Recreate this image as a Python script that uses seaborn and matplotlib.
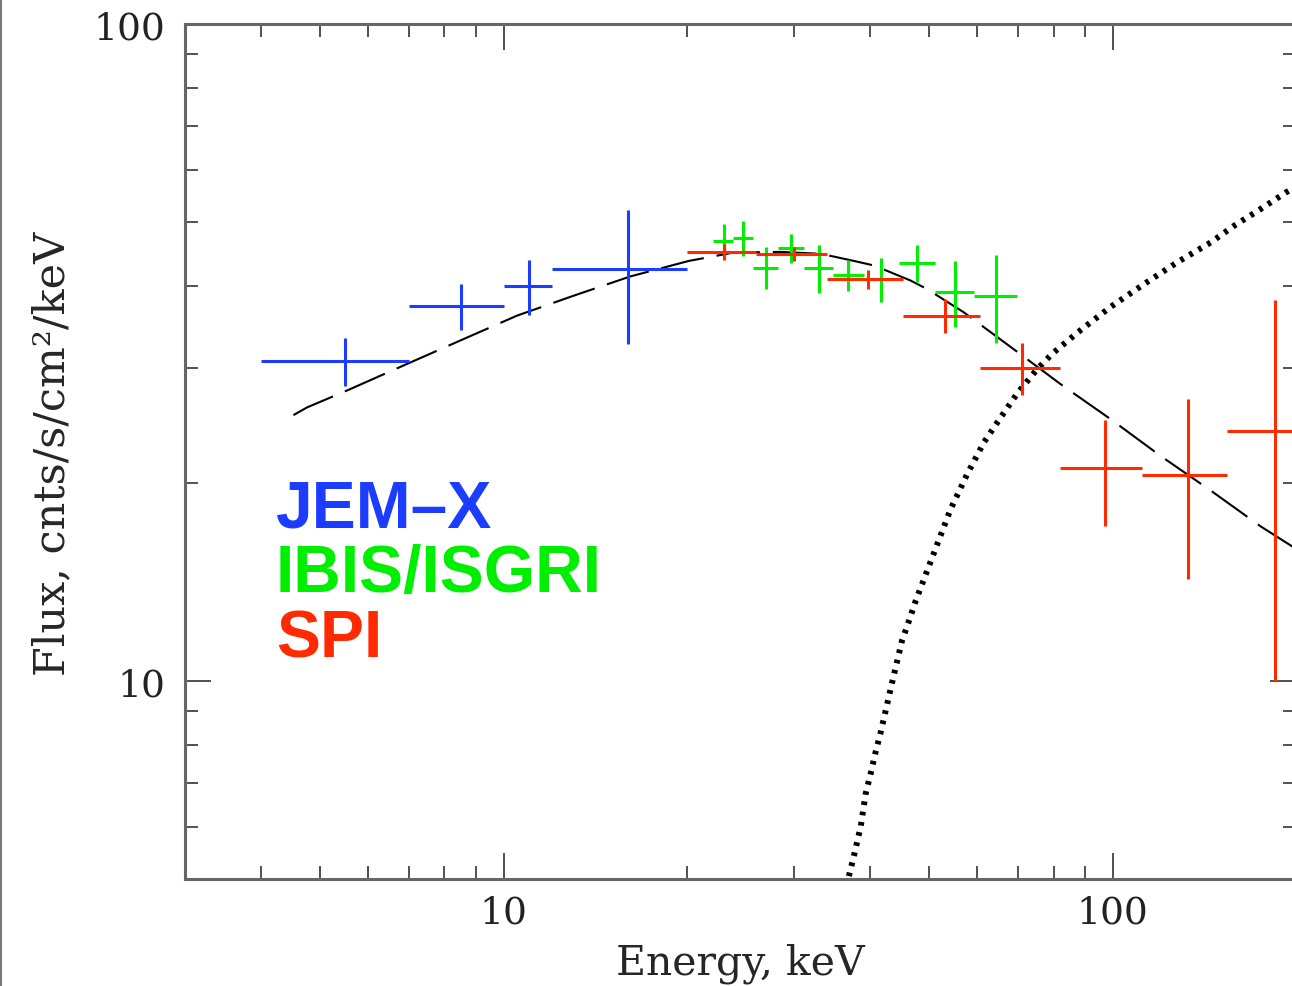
import numpy as np
import pandas as pd
import matplotlib
matplotlib.use("Agg")
import matplotlib.pyplot as plt
import seaborn as sns
from matplotlib.ticker import LogLocator, NullFormatter, FixedLocator, FixedFormatter
from matplotlib.lines import Line2D

# ---------------- data ----------------
# JEM-X
jemx_e = [5.5, 8.5, 11.0, 16.0]
jemx_elo = [4.0, 7.0, 10.0, 12.0]
jemx_ehi = [7.0, 10.0, 12.0, 20.0]
jemx_f = [30.7, 37.2, 39.9, 42.4]
jemx_ferr = [2.6, 3.0, 3.8, 9.8]

# IBIS/ISGRI
isgri_e = [23.0, 24.7, 27.0, 29.6, 32.9, 36.8, 41.7, 47.8, 55.2, 64.3]
isgri_elo = [22.1, 23.8, 25.7, 28.2, 31.1, 34.7, 39.0, 44.6, 51.0, 59.3]
isgri_ehi = [23.8, 25.7, 28.2, 31.1, 34.7, 39.0, 44.6, 51.0, 59.3, 69.6]
isgri_f = [46.8, 47.2, 42.6, 45.6, 42.5, 41.5, 40.9, 43.3, 39.1, 38.6]
isgri_ferr = [2.8, 2.9, 3.1, 2.3, 3.6, 2.2, 3.2, 2.8, 4.5, 5.9]

# SPI
spi_e = [23.0, 30.0, 39.7, 53.0, 71.1, 97.0, 133.0, 184.5]
spi_elo = [20.0, 26.0, 34.0, 45.3, 60.5, 81.9, 111.6, 154.3]
spi_ehi = [26.0, 34.0, 45.3, 60.5, 81.9, 111.6, 154.3, 215.0]
spi_f = [45.0, 44.7, 40.9, 36.0, 30.0, 21.1, 20.6, 24.0]
spi_ferr = [1.2, 1.15, 1.4, 2.15, 2.75, 3.9, 6.3, 14.0]

# dashed model curve
model_e = [4.52, 4.76, 5.54, 6.95, 8.50, 10.53, 13.04, 16.16, 20.15, 23.88, 28.5,
           33.2, 37.6, 40.6, 46.6, 49.6, 57.0, 68.8, 82.2, 99.2, 120.0, 144.9,
           175.0, 200.0]
model_f = [25.4, 26.1, 27.7, 30.4, 33.0, 36.0, 38.6, 41.3, 43.6, 44.9, 45.0,
           44.7, 43.6, 42.9, 40.7, 39.5, 36.4, 32.0, 28.3, 25.05, 22.0, 19.5,
           17.2, 15.9]

# dotted component
dot_e = [36.9, 37.6, 38.6, 39.3, 40.1, 40.8, 41.6, 42.7, 43.5, 44.3, 45.1, 46.3,
         47.5, 54.2, 57.7, 61.5, 65.5, 69.8, 75.2, 79.6, 87.5, 99.2, 112.6, 127.7,
         144.8, 158.2, 175.0, 192.4, 200.0]
dot_f = [5.05, 5.42, 6.02, 6.73, 7.26, 7.79, 8.35, 9.28, 10.0, 10.74, 11.52,
         12.35, 13.25, 18.27, 20.65, 23.1, 25.2, 27.44, 29.85, 31.5, 33.9, 37.1,
         40.2, 43.4, 46.5, 49.3, 52.3, 55.4, 56.6]

instruments = ["JEM\u2013X", "IBIS/ISGRI", "SPI"]
colors = ["#1c3cff", "#00ee00", "#ff2a00"]

x_ticks = [10, 100]
x_ticklabels = ["10", "100"]
y_ticks = [10, 100]
y_ticklabels = ["10", "100"]

# ---------------- figure ----------------
sns.set_theme(style="ticks")
plt.rcParams["font.family"] = ["DejaVu Serif"]

W, H = 1292, 987
fig = plt.figure(figsize=(W / 100, H / 100), dpi=100)
fig.patch.set_facecolor("white")
ax = fig.add_axes([185 / W, 1 - 880 / H, 1111 / W, 855 / H])
ax.set_facecolor("white")
ax.set_xscale("log")
ax.set_yscale("log")
ax.set_xlim(3, 200)
ax.set_ylim(5, 100)

# model curves
sns.lineplot(x=model_e, y=model_f, ax=ax, color="black", lw=1.5,
             linestyle=(0, (21, 6.2)), sort=False, estimator=None)
sns.lineplot(x=dot_e, y=dot_f, ax=ax, color="black", lw=4.3,
             linestyle=(0, (0.62, 1.12)), sort=False, estimator=None)

# data crosses
datasets = [
    (jemx_e, jemx_elo, jemx_ehi, jemx_f, jemx_ferr),
    (isgri_e, isgri_elo, isgri_ehi, isgri_f, isgri_ferr),
    (spi_e, spi_elo, spi_ehi, spi_f, spi_ferr),
]
for (e, lo, hi, f, fe), c in zip(datasets, colors):
    e = np.array(e); lo = np.array(lo); hi = np.array(hi)
    ax.errorbar(e, f, xerr=[e - lo, hi - e], yerr=fe, fmt="none",
                ecolor=c, elinewidth=2.2, capsize=0, zorder=3)

# ticks
for axis in (ax.xaxis, ax.yaxis):
    axis.set_minor_locator(LogLocator(base=10, subs=np.arange(2, 10)))
    axis.set_minor_formatter(NullFormatter())
ax.xaxis.set_major_locator(FixedLocator(x_ticks))
ax.xaxis.set_major_formatter(FixedFormatter(x_ticklabels))
ax.yaxis.set_major_locator(FixedLocator(y_ticks))
ax.yaxis.set_major_formatter(FixedFormatter(y_ticklabels))
ax.tick_params(which="both", direction="in", top=True, right=True,
               colors="#222222", width=1.1)
ax.tick_params(which="major", length=19)
ax.tick_params(which="minor", length=9.5)
ax.tick_params(axis="x", which="major", labelsize=27, pad=11)
ax.tick_params(axis="y", which="major", labelsize=27, pad=14)
for sp in ax.spines.values():
    sp.set_color("#666666")
    sp.set_linewidth(2.2)

# axis labels
ax.set_xlabel("Energy, keV", fontsize=29.5)
ax.xaxis.label.set_va("baseline")
ax.xaxis.set_label_coords((740 - 185) / 1111, (880 - 975) / 855)
ax.set_ylabel("Flux, cnts/s/cm\u00b2/keV", fontsize=31)
ax.yaxis.label.set_va("center")
ax.yaxis.set_label_coords((52 - 185) / 1111, (880 - 454) / 855)

# instrument labels
for i, (name, c) in enumerate(zip(instruments, colors)):
    ax.text((276 - 185) / 1111, (880 - (527 + 65.5 * i)) / 855, name,
            transform=ax.transAxes, color=c, fontsize=47.5, fontweight="bold",
            family="Liberation Sans", ha="left", va="baseline")

# screenshot border on the left
fig.add_artist(Line2D([0.0008, 0.0008], [0, 1], transform=fig.transFigure,
                      color="#777777", lw=1.5))

fig.savefig("out.png", dpi=100, facecolor="white")
